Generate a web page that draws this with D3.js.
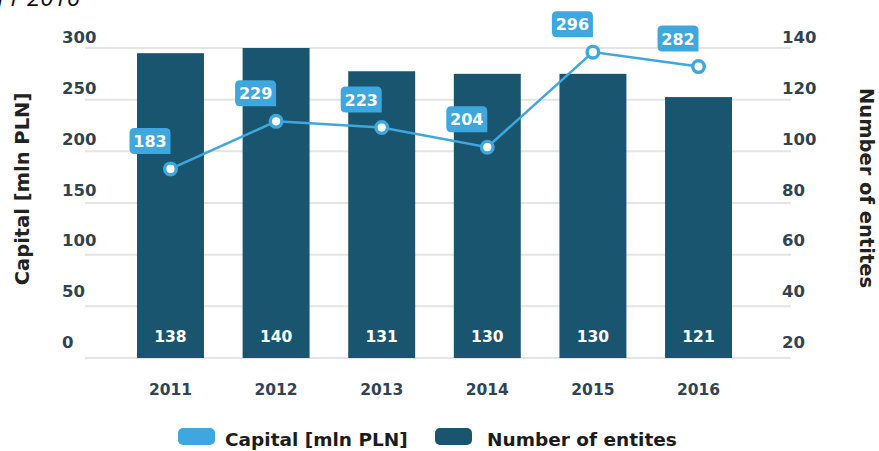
<!DOCTYPE html>
<html><head><meta charset="utf-8">
<script src="https://cdn.jsdelivr.net/npm/d3@7"></script>
<style>
html,body{margin:0;padding:0;background:#fff;}
svg{display:block;font-family:"DejaVu Sans",sans-serif;}
</style></head>
<body>
<svg id="c" width="879" height="451"></svg>
<script>
const years = ["2011","2012","2013","2014","2015","2016"];
const capital = [183,229,223,204,296,282];
const entities = [138,140,131,130,130,121];
const leftTicks = [0,50,100,150,200,250,300];
const rightTicks = [20,40,60,80,100,120,140];
const legendLabels = ["Capital [mln PLN]","Number of entites"];

const lightBlue = "#3ea7de", darkBlue = "#1a5570", tickColor = "#2f4352";
const svg = d3.select("#c");

const x = d3.scaleBand().domain(years).range([137,732]).paddingInner(0.366).paddingOuter(0);
const yL = d3.scaleLinear().domain([0,300]).range([358,48]);
const yR = d3.scaleLinear().domain([20,140]).range([358,48]);
const yLabL = d3.scaleLinear().domain([0,300]).range([348,43]);
const yLabR = d3.scaleLinear().domain([20,140]).range([348,43]);

// title fragment (cut off at the top edge, as in the source)
svg.append("text").attr("x",80).attr("y",6).attr("text-anchor","end")
  .attr("font-family","Open Sans, sans-serif")
  .attr("font-size",24).attr("font-style","italic").attr("fill","#111")
  .text("2011-2016");

// gridlines
svg.append("g").selectAll("line").data(leftTicks).join("line")
  .attr("x1",85).attr("x2",791).attr("y1",d=>yL(d)).attr("y2",d=>yL(d))
  .attr("stroke","#e4e4e4").attr("stroke-width",2);

// left tick labels
svg.append("g").selectAll("text").data(leftTicks).join("text")
  .attr("x",62).attr("y",d=>yLabL(d)).attr("font-size",16.5).attr("font-weight",700)
  .attr("fill",tickColor).text(d=>d);
// right tick labels
svg.append("g").selectAll("text").data(rightTicks).join("text")
  .attr("x",782).attr("y",d=>yLabR(d)).attr("font-size",16.5).attr("font-weight",700)
  .attr("fill",tickColor).text(d=>d);

// axis titles
svg.append("text").attr("transform","translate(29,189) rotate(-90)")
  .attr("text-anchor","middle").attr("font-size",19.5).attr("font-weight",700).attr("fill","#222")
  .text("Capital [mln PLN]");
svg.append("text").attr("transform","translate(860,188) rotate(90)")
  .attr("text-anchor","middle").attr("font-size",19.5).attr("font-weight",700).attr("fill","#222")
  .text("Number of entites");

// bars
svg.append("g").selectAll("rect").data(entities).join("rect")
  .attr("x",(d,i)=>x(years[i])).attr("width",x.bandwidth())
  .attr("y",d=>yR(d)).attr("height",d=>yR(20)-yR(d)).attr("fill",darkBlue);
svg.append("g").selectAll("text").data(entities).join("text")
  .attr("x",(d,i)=>x(years[i])+x.bandwidth()/2).attr("y",341.5)
  .attr("text-anchor","middle").attr("font-size",15.5).attr("font-weight",700).attr("fill","#fff")
  .text(d=>d);

// x labels
svg.append("g").selectAll("text").data(years).join("text")
  .attr("x",d=>x(d)+x.bandwidth()/2).attr("y",394.5)
  .attr("text-anchor","middle").attr("font-size",15.5).attr("font-weight",700).attr("fill",tickColor)
  .text(d=>d);

// line
const cx = (d,i)=>x(years[i])+x.bandwidth()/2;
const line = d3.line().x(cx).y(d=>yL(d));
svg.append("path").datum(capital).attr("d",line).attr("fill","none")
  .attr("stroke",lightBlue).attr("stroke-width",2.5);
svg.append("g").selectAll("circle").data(capital).join("circle")
  .attr("cx",cx).attr("cy",d=>yL(d)).attr("r",5.8)
  .attr("fill","#fff").attr("stroke",lightBlue).attr("stroke-width",3.4);

// callouts
const bw=41,bh=26,r=5;
function bubble(x0,y0){ // box with bottom-right square corner
  const x1=x0+bw,y1=y0+bh;
  return `M${x0+r},${y0}H${x1-r}Q${x1},${y0} ${x1},${y0+r}V${y1}H${x0+r}Q${x0},${y1} ${x0},${y1-r}V${y0+r}Q${x0},${y0} ${x0+r},${y0}Z`;
}
const cg = svg.append("g").selectAll("g").data(capital).join("g")
  .attr("transform",(d,i)=>`translate(${cx(d,i)-bw},${yL(d)-15-bh})`);
cg.append("path").attr("d",bubble(0,0)).attr("fill",lightBlue);
cg.append("text").attr("x",bw/2).attr("y",19).attr("text-anchor","middle")
  .attr("font-size",16).attr("font-weight",700).attr("fill","#fff").text(d=>d);

// legend
const lg = svg.append("g");
const lx = [178,435], tx=[225,487];
legendLabels.forEach((t,i)=>{
  lg.append("rect").attr("x",lx[i]).attr("y",428).attr("width",37).attr("height",17).attr("rx",5)
    .attr("fill",i===0?lightBlue:darkBlue);
  lg.append("text").attr("x",tx[i]).attr("y",446).attr("font-size",18.5).attr("font-weight",700)
    .attr("fill","#1c1c1c").text(t);
});
</script>
</body></html>
